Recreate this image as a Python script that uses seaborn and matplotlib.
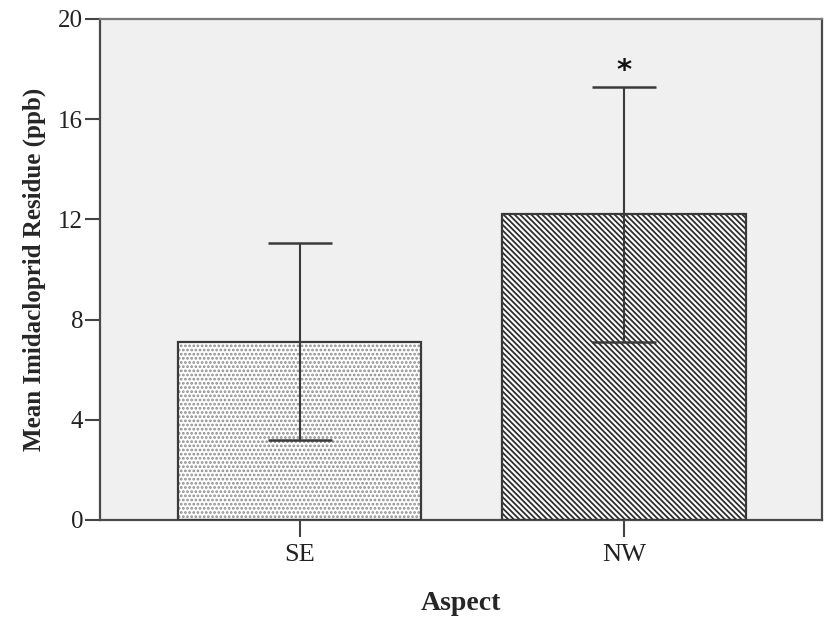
#!/usr/bin/env python3
"""Mean imidacloprid residue by aspect, bar chart with error bars."""

import matplotlib
matplotlib.use("Agg")
import matplotlib.pyplot as plt
import seaborn as sns
import pandas as pd

# Data
aspects = ["SE", "NW"]
mean_residue = [7.1, 12.2]
ci_low = [3.2, 7.1]
ci_high = [11.05, 17.3]
significance = ["", "*"]
y_ticks = [0, 4, 8, 12, 16, 20]

df = pd.DataFrame({"Aspect": aspects, "Residue": mean_residue})

sns.set_theme(style="white")
plt.rcParams["font.family"] = ["Liberation Serif", "DejaVu Serif"]
plt.rcParams["hatch.linewidth"] = 1.3

edge_dark = "#3a3a3a"

fig = plt.figure(figsize=(8.25, 6.24), dpi=100)
ax = fig.add_axes([0.1212, 0.1667, 0.8752, 0.803])
ax.set_facecolor("#f0f0f0")

# hatched fill (hatch colour follows the edge colour)
sns.barplot(data=df, x="Aspect", y="Residue", order=aspects, width=0.75,
            color="white", errorbar=None, ax=ax, zorder=2)
hatches = ["....", "\\\\\\\\\\\\"]
hatch_cols = ["#8c8c8c", "#2e2e2e"]
for patch, h, hc in zip(ax.patches, hatches, hatch_cols):
    patch.set_hatch(h)
    patch.set_edgecolor(hc)
    patch.set_linewidth(0)

# dark outline drawn on top
sns.barplot(data=df, x="Aspect", y="Residue", order=aspects, width=0.75,
            fill=False, edgecolor=edge_dark, linewidth=1.6,
            errorbar=None, ax=ax, zorder=3)

# error bars
pos = list(range(len(aspects)))
yerr = [[m - lo for m, lo in zip(mean_residue, ci_low)],
        [hi - m for m, hi in zip(mean_residue, ci_high)]]
ax.errorbar(pos, mean_residue, yerr=yerr, fmt="none", ecolor=edge_dark,
            elinewidth=1.5, capsize=23, capthick=1.8, zorder=4)

# significance markers
for p, hi, s in zip(pos, ci_high, significance):
    if s:
        ax.annotate(s, xy=(p, hi), xytext=(0, 1), textcoords="offset points",
                    ha="center", va="bottom", fontsize=21, fontweight="bold",
                    family=["DejaVu Sans"], color="#111111")

ax.set_ylim(0, 20)
ax.set_xlim(-0.617, 1.611)
ax.set_yticks(y_ticks)
ax.set_yticklabels([str(t) for t in y_ticks])

for side in ["left", "bottom", "top", "right"]:
    ax.spines[side].set_visible(True)
    ax.spines[side].set_color("#4a4a4a")
    ax.spines[side].set_linewidth(1.6)
ax.spines["top"].set_color("#7a7a7a")

ax.tick_params(axis="y", direction="out", length=11, width=1.5, color="#444444",
               labelsize=18, labelcolor="#222222", pad=1, left=True)
ax.tick_params(axis="x", direction="out", length=12, width=1.5, color="#444444",
               labelsize=19, labelcolor="#222222", pad=5, bottom=True)

ax.set_xlabel("Aspect", fontsize=20, fontweight="bold", labelpad=18)
ax.set_ylabel("Mean Imidacloprid Residue (ppb)", fontsize=18,
              fontweight="bold", labelpad=9)

fig.savefig("out.png", dpi=100)
plt.close(fig)
